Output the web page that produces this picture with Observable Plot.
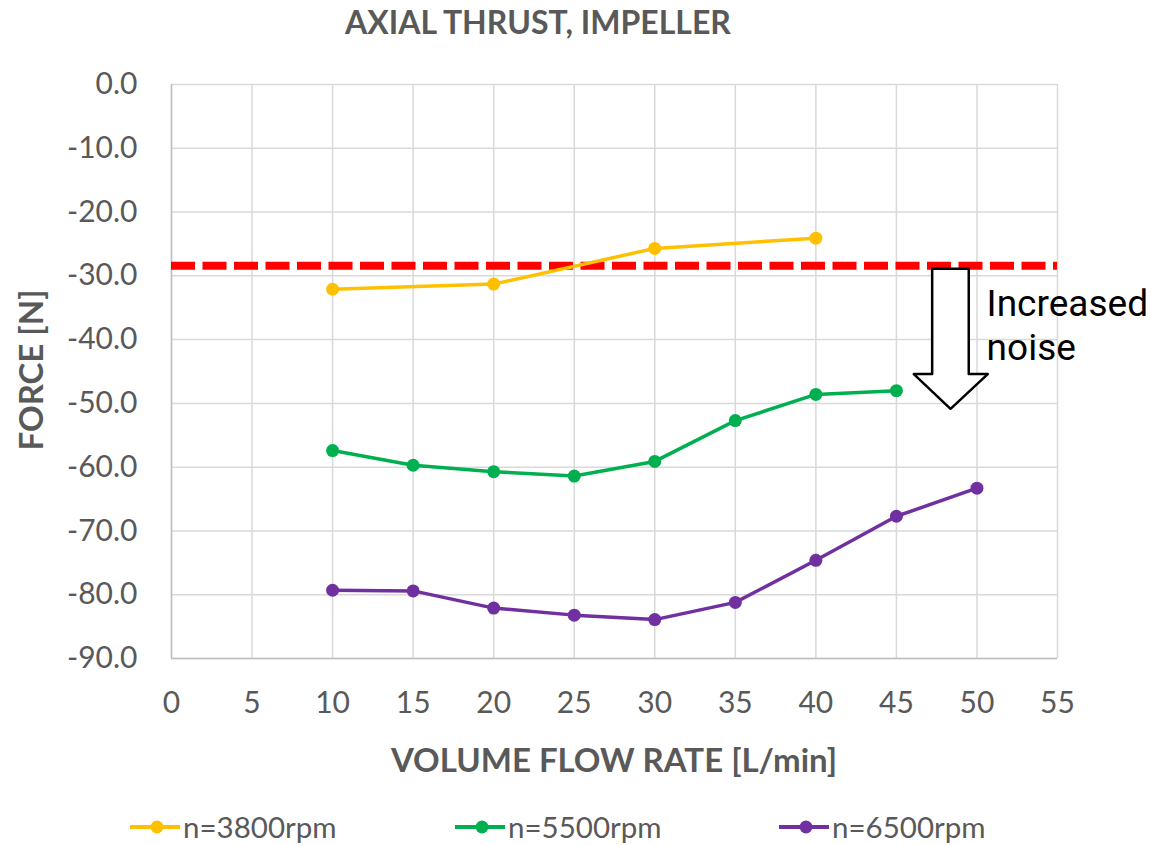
<!DOCTYPE html>
<html>
<head>
<meta charset="utf-8">
<script src="https://cdn.jsdelivr.net/npm/d3@7"></script>
<script src="https://cdn.jsdelivr.net/npm/@observablehq/plot@0.6"></script>
<style>
  html, body { margin: 0; padding: 0; background: #fff; }
  #wrap { position: relative; width: 1154px; height: 845px; font-family: Lato, "Open Sans", sans-serif; color: #595959; }
  #wrap svg { position: absolute; left: 0; top: 0; }
  .abs { position: absolute; white-space: nowrap; }
  .title { font-weight: bold; font-size: 32px; }
  .axlabel { font-weight: bold; font-size: 33px; }
  .leg { font-size: 29.5px; display: flex; align-items: center; }
</style>
</head>
<body>
<div id="wrap"></div>
<script>
// ---- data ----
const flowRates = [10, 15, 20, 25, 30, 35, 40, 45, 50];
const series = ["n=3800rpm", "n=5500rpm", "n=6500rpm"];
const colors = ["#FFC000", "#00B050", "#7030A0"];
const force3800 = [-32.1, null, -31.3, null, -25.7, null, -24.1, null, null];
const force5500 = [-57.4, -59.7, -60.7, -61.4, -59.1, -52.7, -48.6, -48.0, null];
const force6500 = [-79.3, -79.4, -82.1, -83.2, -83.9, -81.2, -74.6, -67.7, -63.3];
const xTicks = [0, 5, 10, 15, 20, 25, 30, 35, 40, 45, 50, 55];
const yTicks = [0, -10, -20, -30, -40, -50, -60, -70, -80, -90];
const limitForce = [-28.4];
// annotation arrow outline (data units)
const arrowX = [47.22, 49.49, 49.49, 50.67, 48.36, 46.08, 47.22];
const arrowY = [-28.9, -28.9, -45.4, -45.4, -50.85, -45.4, -45.4];
const noteLines = ["Increased", "noise"];
const noteX = [50.6, 50.6];
const noteY = [-34.4, -41.3];

// ---- build table ----
const allForces = [force3800, force5500, force6500];
const rows = [];
series.forEach((s, i) => {
  flowRates.forEach((q, j) => {
    const v = allForces[i][j];
    if (v != null) rows.push({series: s, q, f: v});
  });
});
const arrow = arrowX.map((x, i) => ({x, y: arrowY[i]}));
const notes = noteLines.map((t, i) => ({t, x: noteX[i], y: noteY[i]}));

const W = 1154, H = 845;
const chart = Plot.plot({
  width: W,
  height: H,
  marginLeft: 171,
  marginRight: 97,
  marginTop: 84,
  marginBottom: 187,
  style: {fontFamily: "Lato, 'Open Sans', sans-serif", fontSize: "30px", color: "#595959", background: "transparent", overflow: "visible"},
  x: {domain: [0, 55], ticks: xTicks, label: null},
  y: {domain: [-90, 0], ticks: yTicks, label: null},
  color: {domain: series, range: colors},
  marks: [
    Plot.gridX(xTicks, {stroke: "#d9d9d9", strokeOpacity: 1, strokeWidth: 1.5}),
    Plot.gridY(yTicks, {stroke: "#d9d9d9", strokeOpacity: 1, strokeWidth: 1.5}),
    Plot.ruleX([0], {stroke: "#bfbfbf", strokeWidth: 1.5}),
    Plot.ruleY([-90], {stroke: "#bfbfbf", strokeWidth: 1.5}),
    Plot.axisX({ticks: xTicks, tickSize: 0, tickPadding: 33, fill: "#595959", tickFormat: d => String(d)}),
    Plot.axisY({ticks: yTicks, tickSize: 0, tickPadding: 34, fill: "#595959", tickFormat: d => d.toFixed(1)}),
    Plot.ruleY(limitForce, {stroke: "#FF0000", strokeWidth: 8, strokeDasharray: "24,7.5"}),
    Plot.line(rows, {x: "q", y: "f", z: "series", stroke: "series", strokeWidth: 3.5}),
    Plot.dot(rows, {x: "q", y: "f", fill: "series", r: 6.5}),
    Plot.line(arrow, {x: "x", y: "y", fill: "white", stroke: "black", strokeWidth: 2.5, curve: "linear-closed"}),
    Plot.text(notes, {x: "x", y: "y", text: "t", textAnchor: "start", fontSize: 37, fill: "#000", fontFamily: "Roboto"})
  ]
});
const wrap = document.getElementById("wrap");
wrap.appendChild(chart);

function addText(cls, txt, css) {
  const d = document.createElement("div");
  d.className = "abs " + cls;
  d.textContent = txt;
  Object.assign(d.style, css);
  wrap.appendChild(d);
  return d;
}
addText("title", "AXIAL THRUST, IMPELLER", {left: "538px", top: "2px", transform: "translateX(-50%)"});
addText("axlabel", "VOLUME FLOW RATE [L/min]", {left: "614px", top: "739px", transform: "translateX(-50%)"});
addText("axlabel", "FORCE [N]", {left: "30px", top: "370px", transform: "translate(-50%,-50%) rotate(-90deg)"});

const legX = [130, 455, 779];
series.forEach((s, i) => {
  const d = document.createElement("div");
  d.className = "abs leg";
  d.style.left = legX[i] + "px";
  d.style.top = "809px";
  d.innerHTML = `<svg width="52" height="20" style="position:static"><line x1="0" x2="50" y1="10" y2="10" stroke="${colors[i]}" stroke-width="4"/><circle cx="27" cy="10" r="6.5" fill="${colors[i]}"/></svg><span style="margin-left:1px">${s}</span>`;
  wrap.appendChild(d);
});
</script>
</body>
</html>
